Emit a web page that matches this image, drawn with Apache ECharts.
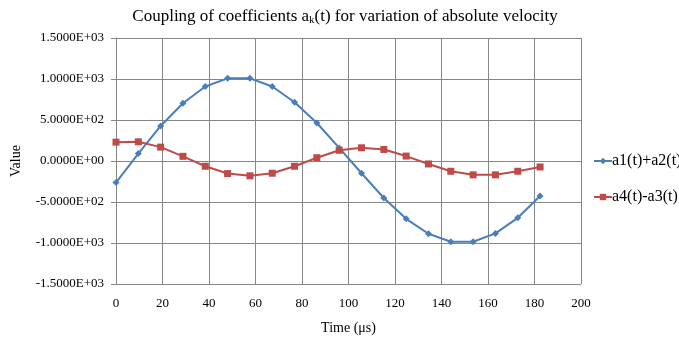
<!DOCTYPE html>
<html><head><meta charset="utf-8">
<script src="https://cdn.jsdelivr.net/npm/echarts@6/dist/echarts.min.js"></script>
<style>html,body{margin:0;padding:0;background:#fff}#c{width:679px;height:339px}</style>
</head><body><div id="c"></div>
<script>
const times = [0, 9.6, 19.2, 28.8, 38.4, 48, 57.6, 67.2, 76.8, 86.4, 96, 105.6, 115.2, 124.8, 134.4, 144, 153.6, 163.2, 172.8, 182.4];
const sumA1A2 = [-263, 90, 427, 705, 908, 1008, 1008, 908, 717, 463, 160, -149, -451, -705, -887, -984, -984, -883, -693, -427];
const diffA4A3 = [230, 234, 169, 57, -64, -153, -181, -149, -64, 40, 131, 161, 141, 60, -36, -125, -169, -169, -125, -73];
const seriesNames = ['a1(t)+a2(t)', 'a4(t)-a3(t)'];
const xTicks = [0, 20, 40, 60, 80, 100, 120, 140, 160, 180, 200];
const yTicks = [-1500, -1000, -500, 0, 500, 1000, 1500];

function sci(v) {
  if (v === 0) return '0.0000E+00';
  const s = v.toExponential(4);
  const m = s.split('e');
  let e = parseInt(m[1], 10);
  const sign = e < 0 ? '-' : '+';
  e = Math.abs(e);
  return m[0] + 'E' + sign + (e < 10 ? '0' + e : '' + e);
}
const font = 'Liberation Serif';
const chart = echarts.init(document.getElementById('c'));
chart.setOption({
  animation: false,
  backgroundColor: '#fff',
  title: {
    text: 'Coupling of coefficients a{sub|k}(t) for variation of absolute velocity',
    left: 340, top: 3, textAlign: 'center',
    textStyle: {
      fontFamily: font, fontSize: 17, fontWeight: 'normal', color: '#000',
      rich: { sub: { fontFamily: font, fontSize: 11, verticalAlign: 'bottom', padding: [7, 0, 0, 0], color: '#000' } }
    }
  },
  grid: { left: 116, right: 98, top: 38, bottom: 55, containLabel: false, outerBoundsMode: 'none' },
  legend: {
    orient: 'vertical', left: 588, top: 148, itemGap: 20,
    itemWidth: 18, itemHeight: 8,
    textStyle: { fontFamily: font, fontSize: 16, color: '#000', padding: [0, 0, 0, -5] },
    data: seriesNames
  },
  xAxis: {
    type: 'value', min: xTicks[0], max: xTicks[xTicks.length - 1], interval: 20,
    name: 'Time (μs)', nameLocation: 'middle', nameGap: 37,
    nameTextStyle: { fontFamily: font, fontSize: 14, color: '#000' },
    axisLine: { lineStyle: { color: '#868686' } },
    axisTick: { show: false },
    axisLabel: { fontFamily: font, fontSize: 13, color: '#000', margin: 13 },
    splitLine: { show: true, lineStyle: { color: '#868686', width: 1 } }
  },
  yAxis: {
    type: 'value', min: yTicks[0], max: yTicks[yTicks.length - 1], interval: 500,
    name: 'Value', nameLocation: 'middle', nameGap: 93, nameRotate: 90,
    nameTextStyle: { fontFamily: font, fontSize: 14, color: '#000' },
    axisLine: { show: true, lineStyle: { color: '#868686' } },
    axisTick: { show: true, length: 5, lineStyle: { color: '#868686' } },
    axisLabel: { fontFamily: font, fontSize: 13, color: '#000', margin: 12, formatter: sci },
    splitLine: { show: true, lineStyle: { color: '#868686', width: 1 } }
  },
  series: [
    {
      name: seriesNames[0], type: 'line',
      data: times.map((t, i) => [t, sumA1A2[i]]),
      symbol: 'diamond', symbolSize: 7,
      lineStyle: { color: '#4A7EBB', width: 2 },
      itemStyle: { color: '#4A7EBB' }
    },
    {
      name: seriesNames[1], type: 'line',
      data: times.map((t, i) => [t, diffA4A3[i]]),
      symbol: 'rect', symbolSize: 7,
      lineStyle: { color: '#BE4B48', width: 2 },
      itemStyle: { color: '#BE4B48' }
    }
  ]
});
</script></body></html>
